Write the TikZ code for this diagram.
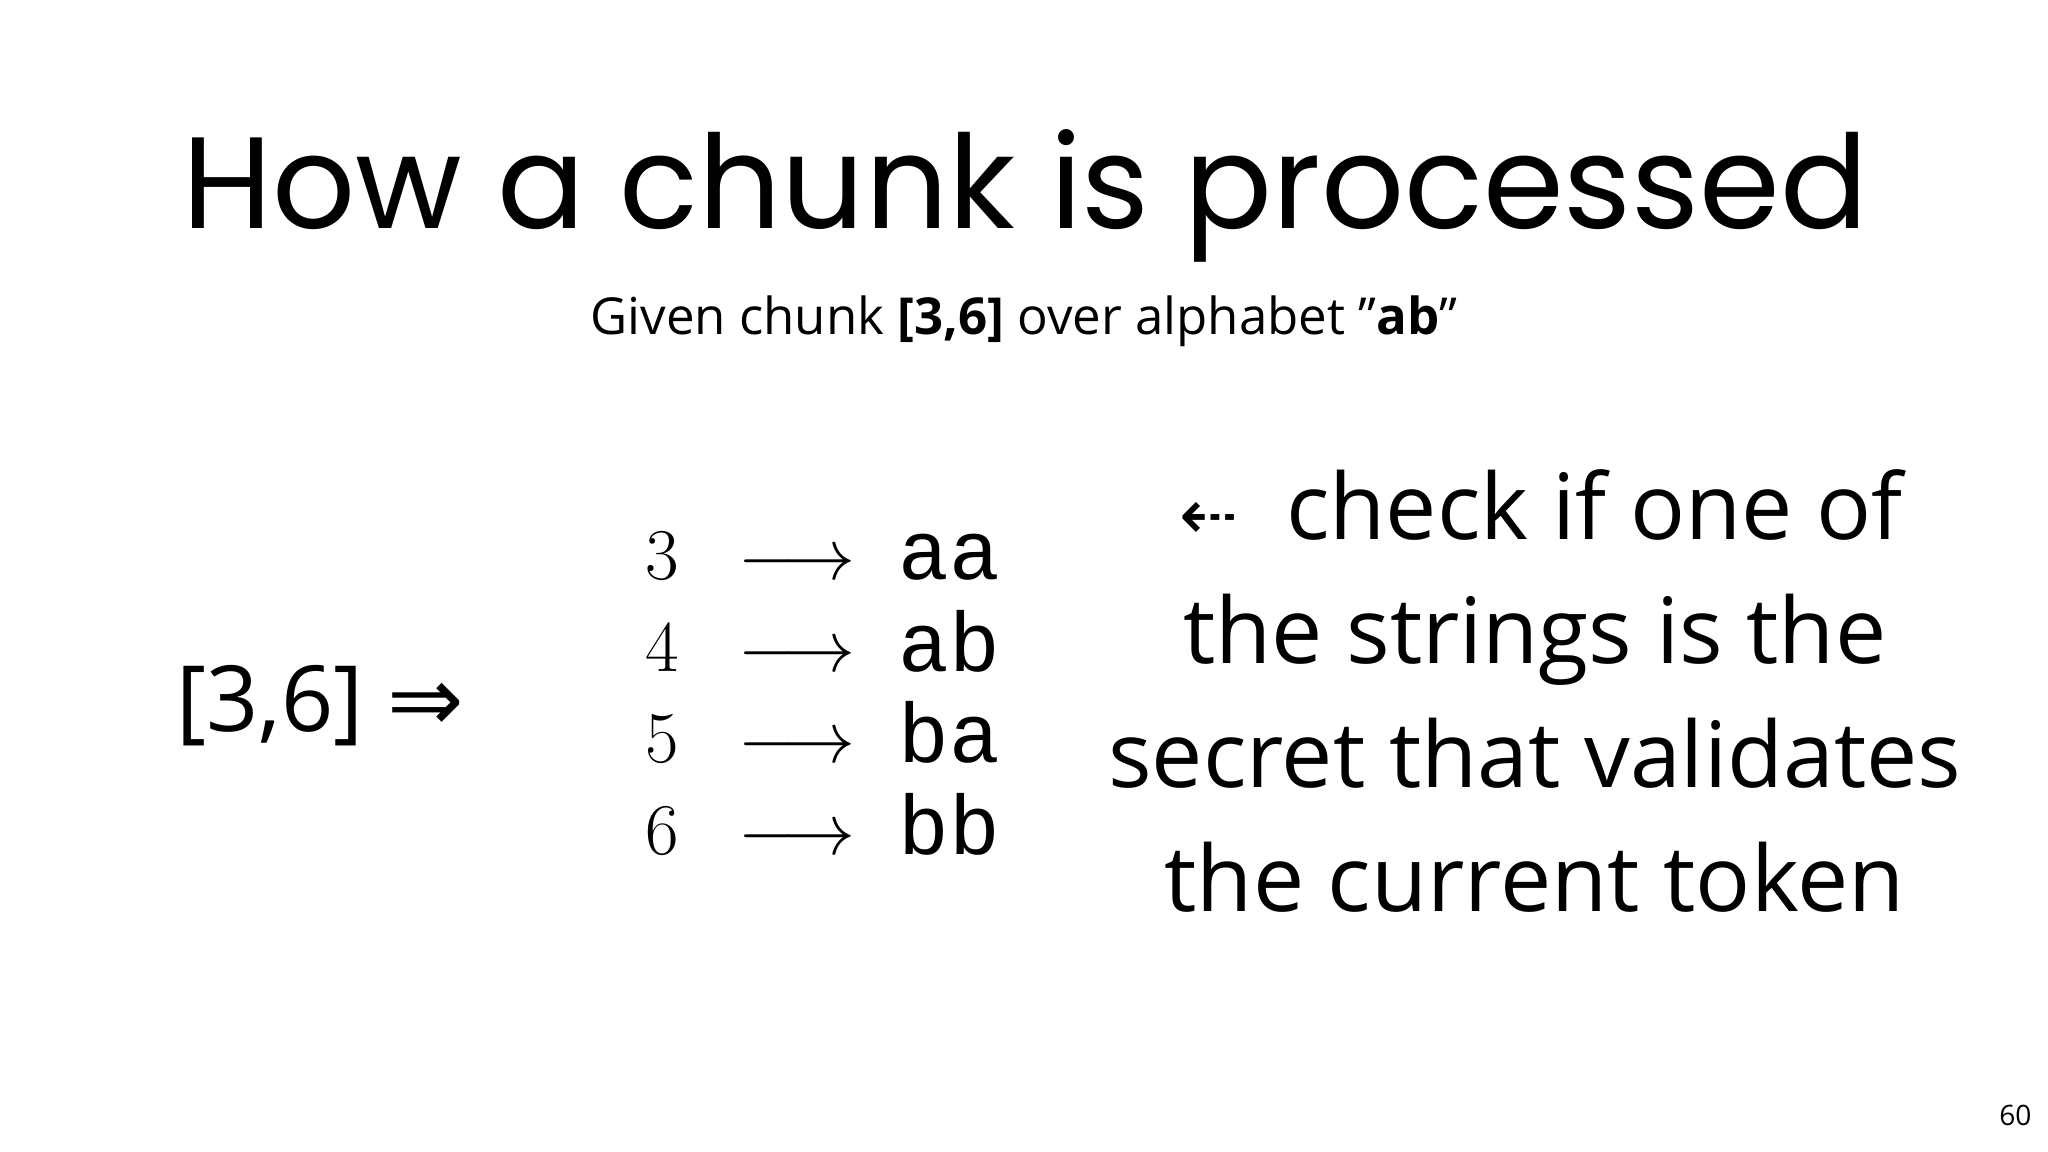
\documentclass[tikz,border=0pt]{standalone}
\usepackage{fontspec}
\setmainfont{Open Sans}
\newfontfamily\titlefont{Poppins}
\newfontfamily\dejavu{DejaVu Sans}
\newfontfamily\monofont{Liberation Mono}
\begin{document}
\begin{tikzpicture}[x=0.01306cm,y=-0.01306cm]
\tikzset{txt/.style={inner sep=0pt,anchor=base}}
\useasboundingbox (0,0) rectangle (1568,882);
\node[txt] (title) at (785,175) {\titlefont\fontsize{37}{40}\selectfont How a chunk is processed};
\node[txt] (sub) at (784,256) {\fontsize{14.5}{17}\selectfont Given chunk \textbf{[3,6]} over alphabet "\textbf{ab}"};
\node[txt] (chunk) at (245,560) {\fontsize{26}{30}\selectfont [3,6] {\dejavu ⇒}};
\foreach \n/\s/\y in {3/aa/444,4/ab/514,5/ba/584,6/bb/654}{
  \node[txt] (n\n) at (507,\y) {\fontsize{21}{24}\selectfont $\n$};
  \node[txt] (a\n) at (610,\y) {\fontsize{21}{24}\selectfont $\longrightarrow$};
  \node[txt] (s\n) at (727,\y) {\monofont\fontsize{24}{26}\selectfont \s};
}
\node[txt] (l1) at (1180,413) {\fontsize{26}{30}\selectfont {\dejavu\fontsize{20}{20}\selectfont ⇠}\ \ check if one of};
\node[txt] (l2) at (1175,508) {\fontsize{26}{30}\selectfont the strings is the};
\node[txt] (l3) at (1175,603) {\fontsize{26}{30}\selectfont secret that validates};
\node[txt] (l4) at (1175,698) {\fontsize{26}{30}\selectfont the current token};
\node[txt] (pg) at (1543,862) {\fontsize{8}{10}\selectfont 60};
\end{tikzpicture}
\end{document}
